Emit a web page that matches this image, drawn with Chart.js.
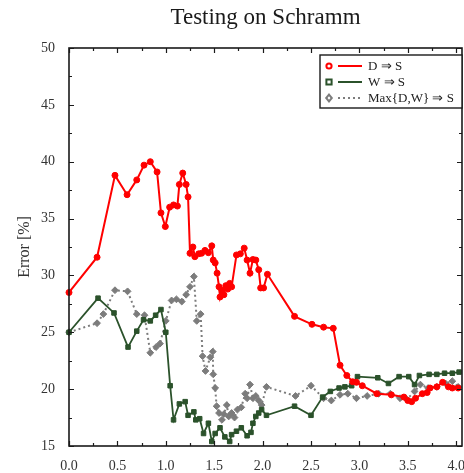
<!DOCTYPE html>
<html>
<head>
<meta charset="utf-8">
<title>Testing on Schramm</title>
<script src="https://cdn.jsdelivr.net/npm/chart.js@4/dist/chart.umd.min.js"></script>
<style>
    body { margin: 0; background: #fff; }
    #wrap { width: 464px; height: 473px; }
</style>
</head>
<body>
<div id="wrap"><canvas id="errChart" width="464" height="473"></canvas></div>
<script>
// D => S
var redX = [0, 0.29, 0.475, 0.60, 0.70, 0.775, 0.84, 0.91, 0.95, 0.995, 1.04, 1.08, 1.12, 1.14, 1.175, 1.21, 1.23,
    1.25, 1.28, 1.30, 1.34, 1.37, 1.405, 1.44, 1.475, 1.49, 1.51, 1.53, 1.55, 1.56, 1.58, 1.60, 1.62, 1.64, 1.66, 1.68,
    1.73, 1.77, 1.81, 1.84, 1.87, 1.90, 1.93, 1.96, 1.98, 2.01, 2.05, 2.33, 2.51, 2.63, 2.73, 2.80, 2.87, 2.93, 2.97,
    3.03, 3.18, 3.33, 3.46, 3.50, 3.54, 3.58, 3.65, 3.70, 3.73, 3.80, 3.86, 3.92, 3.96, 4.02];
var redY = [28.5, 31.6, 38.8, 37.1, 38.4, 39.7, 40.0, 39.1, 35.5, 34.3, 36.0, 36.2, 36.1, 38.0, 39.0, 38.0, 36.9,
    31.95, 32.5, 31.65, 31.9, 31.95, 32.2, 32.0, 32.6, 31.35, 31.1, 30.2, 29.0, 28.1, 28.7, 28.3, 29.1, 28.8, 29.3, 29.0,
    31.8, 31.9, 32.4, 31.35, 30.2, 31.4, 31.35, 30.5, 28.9, 28.9, 30.1, 26.4, 25.7, 25.45, 25.35, 22.1, 21.2, 20.65, 20.6,
    20.3, 19.6, 19.5, 19.3, 19.0, 18.9, 19.2, 19.6, 19.7, 20.1, 20.2, 20.6, 20.2, 20.1, 20.1];

// W => S
var greenX = [0, 0.30, 0.465, 0.61, 0.70, 0.77, 0.84, 0.895, 0.95, 1.00, 1.045, 1.08, 1.14, 1.20, 1.23, 1.29, 1.31,
    1.35, 1.39, 1.44, 1.475, 1.51, 1.56, 1.61, 1.66, 1.68, 1.73, 1.78, 1.84, 1.88, 1.90, 1.93, 1.96, 1.99, 2.04, 2.33,
    2.50, 2.62, 2.70, 2.79, 2.85, 2.92, 2.98, 3.19, 3.30, 3.41, 3.51, 3.57, 3.62, 3.72, 3.80, 3.88, 3.96, 4.03];
var greenY = [25.0, 28.0, 26.7, 23.7, 25.1, 26.1, 26.0, 26.5, 27.0, 25.0, 20.3, 17.3, 18.7, 18.9, 17.7, 18.0, 17.3,
    17.4, 16.1, 17.0, 15.4, 16.1, 16.6, 15.8, 15.4, 16.0, 16.3, 16.6, 15.9, 16.2, 17.0, 17.6, 17.9, 18.2, 17.7, 18.5,
    17.7, 19.3, 19.8, 20.1, 20.2, 20.3, 21.1, 21.0, 20.5, 21.1, 21.1, 20.4, 21.2, 21.3, 21.3, 21.4, 21.4, 21.5];

// Max{D,W} => S
var grayX = [0, 0.29, 0.355, 0.475, 0.605, 0.70, 0.78, 0.84, 0.90, 0.94, 1.00, 1.06, 1.11, 1.165, 1.21, 1.25, 1.29,
    1.32, 1.36, 1.38, 1.41, 1.46, 1.485, 1.49, 1.51, 1.525, 1.55, 1.58, 1.60, 1.63, 1.65, 1.68, 1.71, 1.74, 1.78, 1.82,
    1.84, 1.87, 1.90, 1.93, 1.96, 1.99, 2.04, 2.34, 2.50, 2.63, 2.71, 2.80, 2.88, 2.97, 3.08, 3.20, 3.32, 3.42, 3.49,
    3.57, 3.63, 3.71, 3.80, 3.89, 3.96, 4.02];
var grayY = [25.0, 25.8, 26.6, 28.7, 28.6, 26.6, 26.5, 23.2, 23.7, 24.0, 26.0, 27.8, 27.9, 27.7, 28.3, 29.0, 29.9,
    26.0, 26.6, 22.9, 21.6, 22.8, 23.3, 21.3, 20.1, 18.5, 17.9, 17.3, 17.8, 18.6, 17.6, 17.9, 17.5, 18.2, 18.4, 19.6,
    19.2, 20.4, 19.2, 19.4, 19.0, 18.6, 20.2, 19.4, 20.3, 19.2, 19.0, 19.5, 19.6, 19.2, 19.4, 19.6, 19.6, 19.2, 19.1,
    19.8, 20.4, 20.1, 20.2, 20.5, 20.7, 20.2];

var seriesNames = ['D \u21D2 S', 'W \u21D2 S', 'Max{D,W} \u21D2 S'];
var xTickValues = [0, 0.5, 1.0, 1.5, 2.0, 2.5, 3.0, 3.5, 4.0];
var yTickValues = [15, 20, 25, 30, 35, 40, 45, 50];

var RED = '#ff0000', GREEN = '#2b522b', GRAY = '#7c7c7c';
var SERIF = "'Liberation Serif', 'Times New Roman', serif";

function toPoints(xs, ys) {
    var pts = [];
    for (var i = 0; i < xs.length; i++) {
        pts.push({ x: xs[i], y: ys[i] });
    }
    return pts;
}

// box round the plot with small ticks pointing inwards on all four sides
var framePlugin = {
    id: 'frame',
    afterDatasetsDraw: function (chart) {
        var ctx = chart.ctx, a = chart.chartArea;
        var xs = chart.scales.x, ys = chart.scales.y;
        ctx.save();
        ctx.strokeStyle = '#1a1a1a';
        ctx.lineWidth = 1.2;
        ctx.beginPath();
        for (var i = 0; i <= 16; i++) {
            var px = Math.round(xs.getPixelForValue(i * 0.25)) + 0.5;
            var len = (i % 2 === 0) ? 5 : 3;
            ctx.moveTo(px, a.bottom); ctx.lineTo(px, a.bottom - len);
            ctx.moveTo(px, a.top); ctx.lineTo(px, a.top + len);
        }
        for (var j = 0; j <= 14; j++) {
            var py = Math.round(ys.getPixelForValue(15 + j * 2.5)) + 0.5;
            var ylen = (j % 2 === 0) ? 5 : 3;
            ctx.moveTo(a.left, py); ctx.lineTo(a.left + ylen, py);
            ctx.moveTo(a.right, py); ctx.lineTo(a.right - ylen, py);
        }
        ctx.stroke();
        ctx.lineWidth = 1.6;
        ctx.strokeRect(a.left, a.top, a.right - a.left, a.bottom - a.top);
        ctx.restore();
    }
};

// heading over the plot box
var headingPlugin = {
    id: 'heading',
    afterDraw: function (chart) {
        var ctx = chart.ctx, a = chart.chartArea;
        ctx.save();
        ctx.fillStyle = '#1a1a1a';
        ctx.font = '23px ' + SERIF;
        ctx.textAlign = 'center';
        ctx.textBaseline = 'middle';
        ctx.fillText('Testing on Schramm', (a.left + a.right) / 2, 18);
        ctx.restore();
    }
};

// legend with marker + line sample, boxed in the top right corner
var keyPlugin = {
    id: 'key',
    afterDraw: function (chart) {
        var ctx = chart.ctx, a = chart.chartArea;
        var w = 142, h = 53;
        var left = a.right - w, top = a.top + 7;
        ctx.save();
        ctx.fillStyle = '#fff';
        ctx.fillRect(left, top, w, h);
        ctx.strokeStyle = '#1a1a1a';
        ctx.lineWidth = 1.4;
        ctx.strokeRect(left, top, w, h);

        var styles = [
            { color: RED, dash: [], shape: 'circle' },
            { color: GREEN, dash: [], shape: 'rect' },
            { color: GRAY, dash: [2, 3], shape: 'diamond' }
        ];
        ctx.font = '13px ' + SERIF;
        ctx.textBaseline = 'middle';
        for (var i = 0; i < styles.length; i++) {
            var s = styles[i];
            var cy = top + 11 + i * 16;
            var mx = left + 9;
            ctx.strokeStyle = s.color;
            ctx.lineWidth = 2;
            ctx.setLineDash([]);
            ctx.beginPath();
            if (s.shape === 'circle') {
                ctx.arc(mx, cy, 2.6, 0, Math.PI * 2);
            } else if (s.shape === 'rect') {
                ctx.rect(mx - 2.6, cy - 2.6, 5.2, 5.2);
            } else {
                ctx.moveTo(mx, cy - 3.4); ctx.lineTo(mx + 2.8, cy);
                ctx.lineTo(mx, cy + 3.4); ctx.lineTo(mx - 2.8, cy);
                ctx.closePath();
            }
            ctx.stroke();

            ctx.setLineDash(s.dash);
            ctx.beginPath();
            ctx.moveTo(left + 18, cy);
            ctx.lineTo(left + 42, cy);
            ctx.stroke();
            ctx.setLineDash([]);

            ctx.fillStyle = '#222';
            ctx.fillText(seriesNames[i], left + 48, cy + 1);
        }
        ctx.restore();
    }
};

var ctx = document.getElementById('errChart');

var errChart = new Chart(ctx, {
    type: 'line',
    data: {
        datasets: [{
            label: seriesNames[0],
            data: toPoints(redX, redY),
            borderColor: RED,
            backgroundColor: RED,
            borderWidth: 2,
            pointStyle: 'circle',
            pointRadius: 3,
            pointBorderWidth: 1
        }, {
            label: seriesNames[1],
            data: toPoints(greenX, greenY),
            borderColor: GREEN,
            backgroundColor: GREEN,
            borderWidth: 1.8,
            pointStyle: 'rect',
            pointRadius: 3.2,
            pointBorderWidth: 1
        }, {
            label: seriesNames[2],
            data: toPoints(grayX, grayY),
            borderColor: GRAY,
            backgroundColor: GRAY,
            borderWidth: 2,
            borderDash: [2, 3],
            pointStyle: 'rectRot',
            pointRadius: 3.4,
            pointBorderWidth: 1
        }]
    },
    options: {
        responsive: false,
        animation: false,
        events: [],
        clip: false,
        elements: { line: { tension: 0 } },
        // no extra room for point overflow, the box runs almost to the right edge
        layout: { autoPadding: false, padding: { top: 48, right: 2, bottom: 0, left: 0 } },
        plugins: {
            legend: { display: false },
            title: { display: false },
            tooltip: { enabled: false }
        },
        scales: {
            x: {
                type: 'linear',
                min: 0,
                max: 4.06,
                grid: { display: false },
                border: { display: false },
                afterBuildTicks: function (scale) {
                    scale.ticks = xTickValues.map(function (v) { return { value: v }; });
                },
                afterFit: function (scale) {
                    scale.height = 27;
                    scale.paddingLeft = 0;
                    scale.paddingRight = 0;
                },
                ticks: {
                    padding: 4,
                    color: '#333',
                    font: { family: SERIF, size: 14 },
                    maxRotation: 0,
                    autoSkip: false,
                    callback: function (v) { return Number(v).toFixed(1); }
                }
            },
            y: {
                min: 15,
                max: 50,
                grid: { display: false },
                border: { display: false },
                afterBuildTicks: function (scale) {
                    scale.ticks = yTickValues.map(function (v) { return { value: v }; });
                },
                afterFit: function (scale) {
                    scale.width = 69;
                    scale.paddingTop = 0;
                    scale.paddingBottom = 0;
                },
                title: {
                    display: true,
                    text: 'Error [%]',
                    color: '#333',
                    font: { family: SERIF, size: 16 },
                    padding: { top: 15, bottom: 0 }
                },
                ticks: {
                    padding: 6,
                    color: '#333',
                    font: { family: SERIF, size: 14 },
                    autoSkip: false
                }
            }
        }
    },
    plugins: [framePlugin, headingPlugin, keyPlugin]
});
</script>
</body>
</html>
